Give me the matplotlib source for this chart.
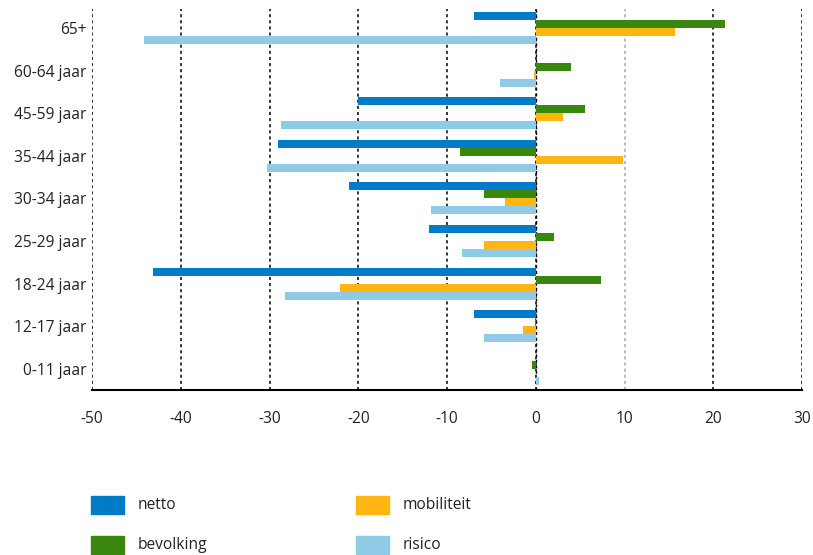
import matplotlib
matplotlib.use("Agg")
import matplotlib.pyplot as plt
from matplotlib.patches import Rectangle
import numpy as np

plt.rcParams['font.family'] = ['Open Sans', 'DejaVu Sans']

categories = ["65+", "60-64 jaar", "45-59 jaar", "35-44 jaar", "30-34 jaar",
              "25-29 jaar", "18-24 jaar", "12-17 jaar", "0-11 jaar"]
netto      = [-7.0, 0.0, -20.0, -29.0, -21.0, -12.0, -43.1, -7.0, 0.0]
bevolking  = [21.3, 4.0, 5.5, -8.5, -5.8, 2.0, 7.3, -0.1, -0.4]
mobiliteit = [15.7, -0.2, 3.1, 9.8, -3.5, -5.8, -22.1, -1.4, 0.0]
risico     = [-44.1, -4.0, -28.7, -30.3, -11.8, -8.3, -28.3, -5.8, 0.4]
series_names = ["netto", "bevolking", "mobiliteit", "risico"]
series_values = [netto, bevolking, mobiliteit, risico]
colors = ["#007BC7", "#39870C", "#FFB612", "#8FCAE7"]
xticks = [-50, -40, -30, -20, -10, 0, 10, 20, 30]

W, H = 813, 555
fig = plt.figure(figsize=(W / 100, H / 100), dpi=100)
ax = fig.add_axes([92 / W, 1 - 390 / H, (802 - 92) / W, (390 - 9) / H])

y = np.arange(len(categories))
bh = 0.188
offsets = [-1.5, -0.5, 0.5, 1.5]
for vals, col, off in zip(series_values, colors, offsets):
    ax.barh(y + off * bh, vals, height=bh, color=col, zorder=3, linewidth=0)

for xv in xticks:
    col = "#aaaaaa" if xv == 10 else "black"
    ax.axvline(xv, color=col, linestyle=(0, (2, 2)), linewidth=1.1, zorder=1)
ax.axvline(0, color="black", linestyle=(0, (2, 2)), linewidth=1.0, zorder=2.5)

ax.set_xlim(-50, 30)
ax.set_ylim(8.5, -0.45)
ax.set_yticks(y)
ax.set_yticklabels(categories, fontsize=11.2, color="#222222")
ax.set_xticks(xticks)
ax.set_xticklabels([str(v) for v in xticks], fontsize=11.2, color="#222222")
ax.tick_params(axis="both", length=0)
ax.tick_params(axis="x", pad=15)
ax.tick_params(axis="y", pad=4)
for s in ["left", "right", "top"]:
    ax.spines[s].set_visible(False)
ax.spines["bottom"].set_linewidth(1.5)
ax.spines["bottom"].set_zorder(5)

# legend (column-major: netto, bevolking | mobiliteit, risico)
pos = [(91, 496), (91, 536), (356, 496), (356, 536)]
for name, col, (px, py) in zip(series_names, colors, pos):
    fig.patches.append(Rectangle((px / W, 1 - (py + 18) / H), 33 / W, 18 / H,
                                 transform=fig.transFigure, color=col))
    fig.text((px + 47) / W, 1 - (py + 9) / H, name, fontsize=11.2,
             va="center", ha="left", color="#222222")

fig.savefig("out.png", dpi=100)
